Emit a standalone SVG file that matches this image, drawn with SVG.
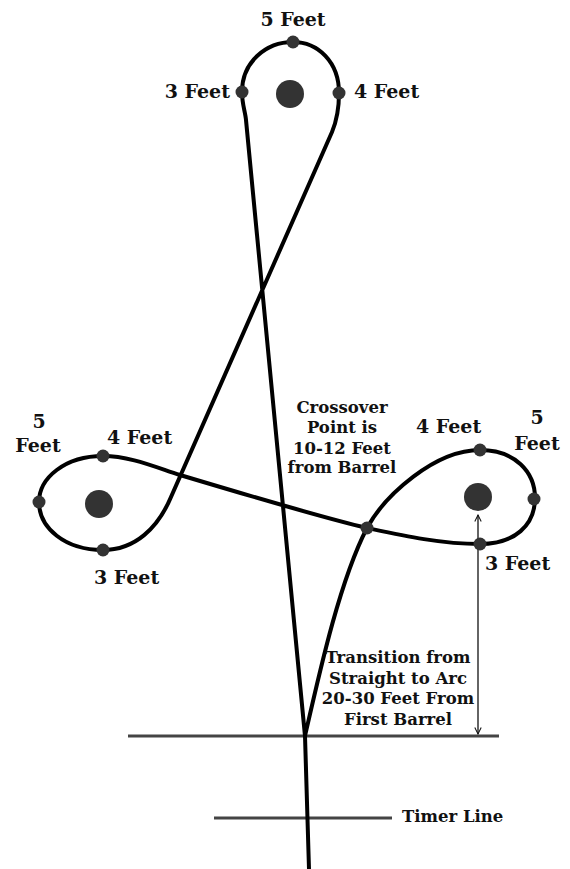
<svg xmlns="http://www.w3.org/2000/svg" width="570" height="869" viewBox="0 0 570 869">
<style>
.lbl{font-family:"DejaVu Serif","Liberation Serif",serif;font-weight:bold;font-size:19px;fill:#111}
.blk{font-family:"DejaVu Serif","Liberation Serif",serif;font-weight:bold;font-size:16.5px;fill:#111;text-anchor:middle}
.dot{fill:#333}
.barrel{fill:#333}
.ref{stroke:#444;stroke-width:3;fill:none}
.path{stroke:#000;stroke-width:4;fill:none;stroke-linejoin:round}
</style>
<defs>
<marker id="arr" viewBox="0 0 10 10" refX="9" refY="5" markerWidth="8" markerHeight="8" orient="auto-start-reverse" markerUnits="userSpaceOnUse">
<path d="M1,1 L9,5 L1,9" fill="none" stroke="#111" stroke-width="1.3"/>
</marker>
</defs>
<g id="reference-lines">
<line class="ref" x1="128" y1="736" x2="499" y2="736"/>
<line class="ref" x1="214" y1="818" x2="392" y2="818"/>
</g>
<g id="connectors">
<path class="path" d="M309,869 L305,736 C320,670 340,580 367,528 C385,495 435,450 480,450 C515,450 535,472 535,498 C535,525 515,544 480,544 C440,544 400,535 367,528 C320,517 210,484 180,475 C155,467 130,456 103,456 C65,456 39,478 39,502 C39,528 65,550 103,550 C135,550 158,528 171,497 L332,132 C337,120 339,108 339,93 C339,62 318,42 293,42 C266,42 242,62 242,92 C242,104 245.3,112 246,120 L305,736"/>
<line x1="478" y1="515" x2="478" y2="734" stroke="#111" stroke-width="1.3" marker-start="url(#arr)" marker-end="url(#arr)"/>
</g>
<g id="barrel-top">
<circle class="barrel" cx="290" cy="94" r="14"/>
<circle class="dot" cx="293" cy="42" r="6.5"/>
<circle class="dot" cx="242" cy="92" r="6.5"/>
<circle class="dot" cx="339" cy="93" r="6.5"/>
<text class="lbl" x="293" y="26" text-anchor="middle">5 Feet</text>
<text class="lbl" x="230" y="98" text-anchor="end">3 Feet</text>
<text class="lbl" x="354" y="98">4 Feet</text>
</g>
<g id="barrel-left">
<circle class="barrel" cx="99" cy="504" r="14"/>
<circle class="dot" cx="103" cy="456" r="6.5"/>
<circle class="dot" cx="39" cy="502" r="6.5"/>
<circle class="dot" cx="103" cy="550" r="6.5"/>
<text class="lbl" x="39" y="428" text-anchor="middle">5</text>
<text class="lbl" x="38" y="452" text-anchor="middle">Feet</text>
<text class="lbl" x="107" y="444">4 Feet</text>
<text class="lbl" x="94" y="584">3 Feet</text>
</g>
<g id="barrel-right">
<circle class="barrel" cx="478" cy="497" r="14"/>
<circle class="dot" cx="480" cy="450" r="6.5"/>
<circle class="dot" cx="534" cy="499" r="6.5"/>
<circle class="dot" cx="480" cy="544" r="6.5"/>
<text class="lbl" x="537" y="424" text-anchor="middle">5</text>
<text class="lbl" x="537" y="450" text-anchor="middle">Feet</text>
<text class="lbl" x="416" y="433">4 Feet</text>
<text class="lbl" x="485" y="570">3 Feet</text>
</g>
<g id="crossover">
<circle class="dot" cx="367" cy="528" r="6.5"/>
<text class="blk" x="342" y="413">Crossover</text>
<text class="blk" x="342" y="433">Point is</text>
<text class="blk" x="342" y="454">10-12 Feet</text>
<text class="blk" x="342" y="473">from Barrel</text>
</g>
<g id="transition">
<text class="blk" x="398" y="663">Transition from</text>
<text class="blk" x="398" y="684">Straight to Arc</text>
<text class="blk" x="398" y="704">20-30 Feet From</text>
<text class="blk" x="398" y="725">First Barrel</text>
</g>
<g id="timer">
<text class="lbl" x="402" y="822" style="font-size:16.5px">Timer Line</text>
</g>
</svg>
